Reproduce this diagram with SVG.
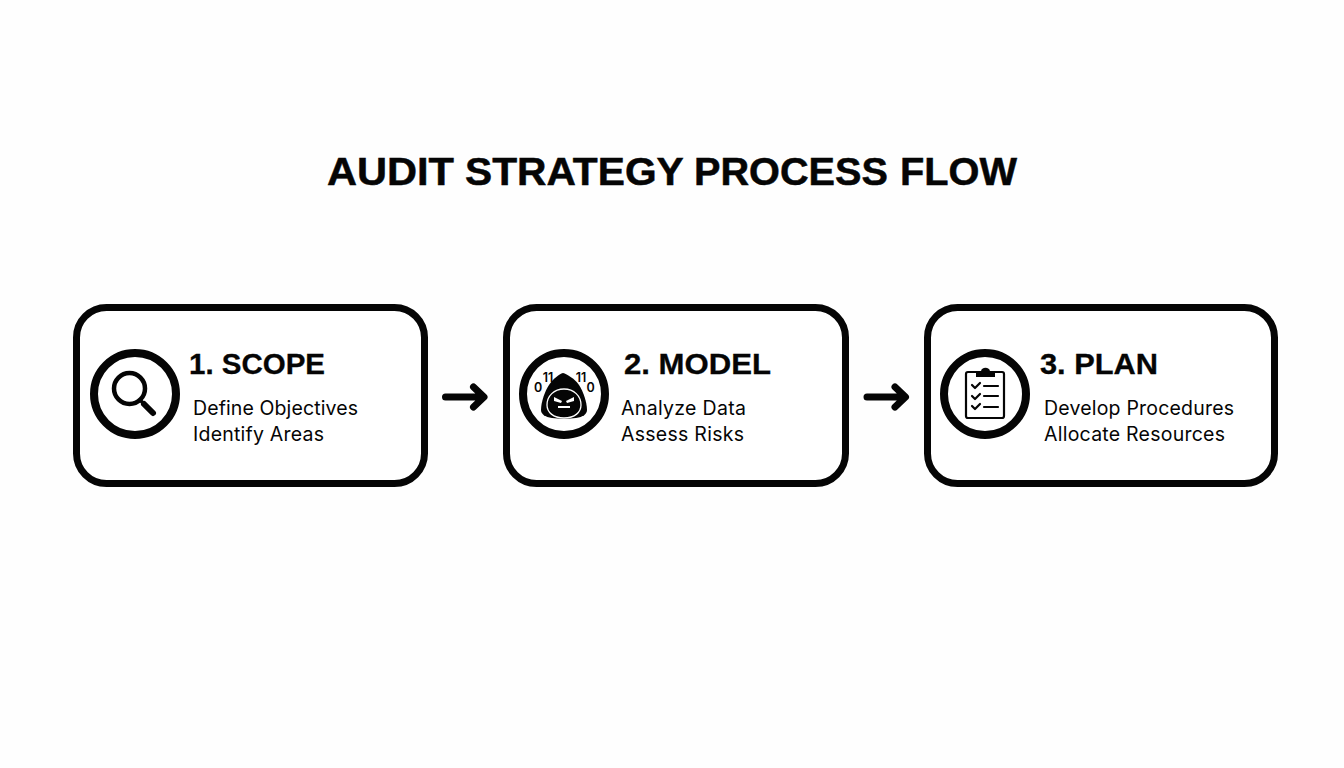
<svg xmlns="http://www.w3.org/2000/svg" width="1344" height="768" viewBox="0 0 1344 768">
<style>
text{font-family:Inter,"Liberation Sans",sans-serif;fill:#050505}
.title{font-family:"Liberation Sans",Arial,sans-serif;font-size:38.500px;font-weight:700;stroke:#050505;stroke-width:.5}
.head{font-family:"Liberation Sans",Arial,sans-serif;font-size:29px;font-weight:700;stroke:#050505;stroke-width:.3}
.sub{font-size:19.5px;font-weight:400}
.box{fill:#fff;stroke:#050505;stroke-width:7}
.ring{fill:#fff;stroke:#050505;stroke-width:8}
.ln{fill:none;stroke:#050505;stroke-linecap:round;stroke-linejoin:round}
.bit{font-size:12.5px;font-weight:600}
</style>
<defs>
<g id="arrow"><path class="ln" stroke-width="7" d="M0 0H38M28 -10L38.500 0L28 10"/></g>
</defs>
<rect width="1344" height="768" fill="#fefefe"/>
<text class="title" y="185"><tspan x="327" textLength="127" lengthAdjust="spacingAndGlyphs">AUDIT</tspan> <tspan x="465" textLength="218" lengthAdjust="spacingAndGlyphs">STRATEGY</tspan> <tspan x="694" textLength="194" lengthAdjust="spacingAndGlyphs">PROCESS</tspan> <tspan x="900" textLength="117" lengthAdjust="spacingAndGlyphs">FLOW</tspan></text>
<g id="connectors">
<use href="#arrow" x="445.500" y="397"/>
<use href="#arrow" x="867" y="397"/>
</g>
<g id="node-scope">
<rect class="box" x="76.500" y="307.500" width="348" height="176" rx="30"/>
<circle class="ring" cx="135" cy="394" r="41"/>
<circle cx="129.500" cy="388.500" r="15.500" fill="none" stroke="#050505" stroke-width="4.500"/>
<path class="ln" stroke-width="3.500" d="M140 400L146 406"/>
<path class="ln" stroke-width="6" d="M144 404L153 413"/>
<text class="head" x="189" y="374" textLength="136" lengthAdjust="spacingAndGlyphs">1. SCOPE</text>
<text class="sub" x="193" y="415" textLength="165" lengthAdjust="spacing">Define Objectives</text>
<text class="sub" x="193" y="441" textLength="131" lengthAdjust="spacing">Identify Areas</text>
</g>
<g id="node-model">
<rect class="box" x="506.500" y="307.500" width="339" height="176" rx="30"/>
<circle class="ring" cx="564" cy="394" r="41"/>
<path fill="#050505" d="M563 373C559 374 553 379 549 385C545 391 541 402 541 410C541 414 545 417 552 418C559 419 569 419 576 418C583 417 587 414 587 410C587 402 583 391 579 385C575 379 567 374 563 373Z"/>
<path fill="none" stroke="#fff" stroke-width="1.300" d="M564 389C554 389 547 396 547 405C547 412 553 418 564 418C575 418 581 412 581 405C581 396 574 389 564 389Z"/>
<path fill="#fff" d="M554 397L562 401L561 403L554 401Z M574 397L566 401L567 403L574 401Z"/>
<rect x="558" y="406" width="12" height="2" fill="#fff"/>
<text class="bit" x="548" y="382" text-anchor="middle">11</text>
<text class="bit" x="581" y="382" text-anchor="middle">11</text>
<text class="bit" x="538" y="392" text-anchor="middle">0</text>
<text class="bit" x="590.500" y="392" text-anchor="middle">0</text>
<text class="head" x="624" y="374" textLength="147" lengthAdjust="spacingAndGlyphs">2. MODEL</text>
<text class="sub" x="621" y="415" textLength="125" lengthAdjust="spacing">Analyze Data</text>
<text class="sub" x="621" y="441" textLength="123" lengthAdjust="spacing">Assess Risks</text>
</g>
<g id="node-plan">
<rect class="box" x="927.500" y="307.500" width="347" height="176" rx="30"/>
<circle class="ring" cx="985" cy="394" r="41"/>
<rect x="966" y="372" width="38" height="46" rx="2" fill="none" stroke="#050505" stroke-width="2.200"/>
<path fill="#050505" d="M976 377V371.500H981C981 366.500 990 366.500 990 371.500H995V377Z"/>
<path class="ln" stroke-width="2.200" d="M972 385L975 388L980 383M972 396L975 399L980 394M972 406L975 409L980 404"/>
<path class="ln" stroke-width="2.200" d="M984 386H998M984 396H998M984 407H998"/>
<text class="head" x="1040" y="374" textLength="118" lengthAdjust="spacingAndGlyphs">3. PLAN</text>
<text class="sub" x="1044" y="415" textLength="190" lengthAdjust="spacing">Develop Procedures</text>
<text class="sub" x="1044" y="441" textLength="181" lengthAdjust="spacing">Allocate Resources</text>
</g>
</svg>
